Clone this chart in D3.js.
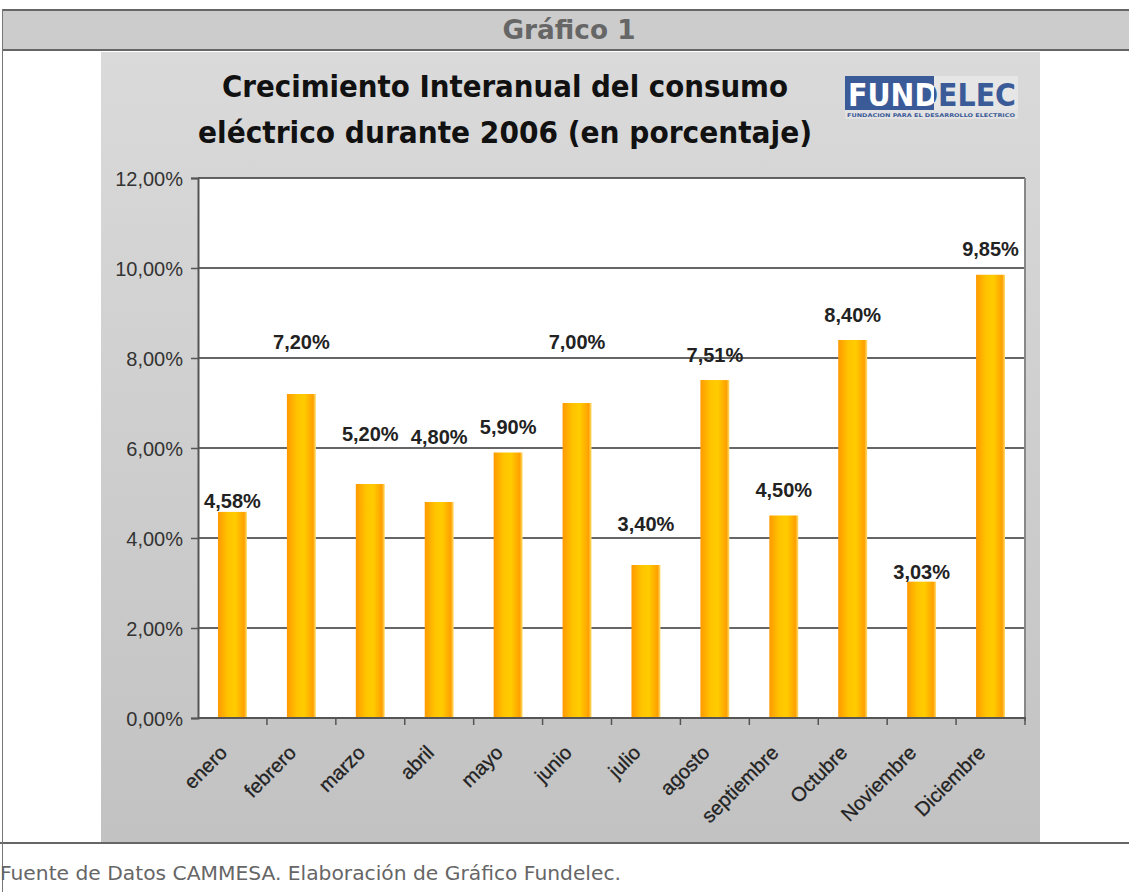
<!DOCTYPE html>
<html>
<head>
<meta charset="utf-8">
<script src="https://cdn.jsdelivr.net/npm/d3@7"></script>
<style>
  body { margin: 0; background: #fff; }
  svg { display: block; }
</style>
</head>
<body>
<svg id="chart" width="1129" height="892"></svg>
<script>
// data
const months = ['enero', 'febrero', 'marzo', 'abril', 'mayo', 'junio', 'julio',
  'agosto', 'septiembre', 'Octubre', 'Noviembre', 'Diciembre'];
const growth = [4.58, 7.20, 5.20, 4.80, 5.90, 7.00, 3.40, 7.51, 4.50, 8.40, 3.03, 9.85];
// level (in %) where the data label baseline sits in the original
const labelLevel = [4.67, 8.2, 6.16, 6.09, 6.31, 8.2, 4.16, 7.91, 4.91, 8.8, 3.09, 10.26];
const yTicks = [0, 2, 4, 6, 8, 10, 12];
const titleLines = ['Crecimiento Interanual del consumo', 'eléctrico durante 2006 (en porcentaje)'];

const es = d3.formatLocale({ decimal: ',', thousands: '.', grouping: [3], currency: ['$', ''] });
const fmt = es.format('.2f');

const svg = d3.select('#chart');
const defs = svg.append('defs');

const bg = defs.append('linearGradient').attr('id', 'bg')
  .attr('x1', 0).attr('y1', 0).attr('x2', 0).attr('y2', 1);
bg.append('stop').attr('offset', 0).attr('stop-color', '#dadada');
bg.append('stop').attr('offset', 1).attr('stop-color', '#c2c2c2');

const barG = defs.append('linearGradient').attr('id', 'bar')
  .attr('x1', 0).attr('y1', 0).attr('x2', 1).attr('y2', 0);
[[0, '#ff9900'], [0.35, '#ffc400'], [0.6, '#ffcc00'], [0.9, '#ffa000'], [1, '#ffe070']]
  .forEach(([o, c]) => barG.append('stop').attr('offset', o).attr('stop-color', c));

// page table frame
svg.append('rect').attr('x', 2).attr('y', 9).attr('width', 1127).attr('height', 41).attr('fill', '#cccccc');
svg.append('line').attr('x1', 2).attr('x2', 1129).attr('y1', 10).attr('y2', 10).attr('stroke', '#666').attr('stroke-width', 2);
svg.append('line').attr('x1', 2).attr('x2', 1129).attr('y1', 50).attr('y2', 50).attr('stroke', '#666').attr('stroke-width', 2);
svg.append('line').attr('x1', 0).attr('x2', 1129).attr('y1', 843).attr('y2', 843).attr('stroke', '#666').attr('stroke-width', 2);
svg.append('line').attr('x1', 2.5).attr('x2', 2.5).attr('y1', 9).attr('y2', 892).attr('stroke', '#777').attr('stroke-width', 1);
svg.append('text').attr('x', 569).attr('y', 39).attr('text-anchor', 'middle')
  .attr('font-family', 'DejaVu Sans').attr('font-weight', 'bold').attr('font-size', 26)
  .attr('textLength', 133).attr('lengthAdjust', 'spacingAndGlyphs')
  .attr('fill', '#666').text('Gráfico 1');
svg.append('text').attr('x', 0).attr('y', 880)
  .attr('font-family', 'DejaVu Sans').attr('font-size', 19)
  .attr('textLength', 621).attr('lengthAdjust', 'spacingAndGlyphs')
  .attr('fill', '#666').text('Fuente de Datos CAMMESA. Elaboración de Gráfico Fundelec.');

// chart image background
svg.append('rect').attr('x', 101).attr('y', 52).attr('width', 939).attr('height', 790).attr('fill', 'url(#bg)');

// title
svg.append('g').selectAll('text').data(titleLines).join('text')
  .attr('x', 505).attr('y', (d, i) => 97 + i * 46)
  .attr('text-anchor', 'middle')
  .attr('font-family', 'DejaVu Sans Condensed, DejaVu Sans').attr('font-weight', 'bold').attr('font-size', 31)
  .attr('textLength', (d, i) => i === 0 ? 566 : 614).attr('lengthAdjust', 'spacingAndGlyphs')
  .attr('fill', '#111').text(d => d);

// logo
const logo = svg.append('g');
defs.append('clipPath').attr('id', 'logoClip').append('rect')
  .attr('x', 845).attr('y', 76).attr('width', 89).attr('height', 34);
logo.append('rect').attr('x', 934).attr('y', 76).attr('width', 84).attr('height', 34).attr('fill', '#e6e6e6');
logo.append('rect').attr('x', 845).attr('y', 76).attr('width', 89).attr('height', 34).attr('fill', '#3b5b98');
logo.append('rect').attr('x', 845).attr('y', 110).attr('width', 173).attr('height', 9).attr('fill', '#e2e2e2');
logo.append('text').attr('x', 848).attr('y', 106)
  .attr('font-family', 'DejaVu Sans').attr('font-weight', 'bold').attr('font-size', 32)
  .attr('textLength', 168).attr('lengthAdjust', 'spacingAndGlyphs')
  .attr('fill', '#3b5b98').text('FUNDELEC');
logo.append('text').attr('x', 848).attr('y', 106).attr('clip-path', 'url(#logoClip)')
  .attr('font-family', 'DejaVu Sans').attr('font-weight', 'bold').attr('font-size', 32)
  .attr('textLength', 168).attr('lengthAdjust', 'spacingAndGlyphs')
  .attr('fill', '#fff').text('FUNDELEC');
logo.append('text').attr('x', 847).attr('y', 117)
  .attr('font-family', 'DejaVu Sans').attr('font-weight', 'bold').attr('font-size', 5)
  .attr('textLength', 168).attr('lengthAdjust', 'spacingAndGlyphs')
  .attr('fill', '#3b5b98').text('FUNDACION PARA EL DESARROLLO ELECTRICO');

// plot
const plotL = 198, plotR = 1025, plotT = 178, plotB = 718;
const x = d3.scaleBand().domain(months).range([plotL, plotR]).paddingInner(0.58).paddingOuter(0.29);
const y = d3.scaleLinear().domain([0, 12]).range([plotB, plotT]);

svg.append('rect').attr('x', plotL).attr('y', plotT).attr('width', plotR - plotL).attr('height', plotB - plotT).attr('fill', '#fff');

svg.append('g').selectAll('line').data(yTicks.filter(t => t > 0)).join('line')
  .attr('x1', plotL).attr('x2', plotR).attr('y1', d => y(d)).attr('y2', d => y(d))
  .attr('stroke', '#333').attr('stroke-width', 1.3);

svg.append('line').attr('x1', plotR).attr('x2', plotR).attr('y1', plotT).attr('y2', plotB + 3)
  .attr('stroke', '#888').attr('stroke-width', 2);

svg.append('g').selectAll('rect').data(growth).join('rect')
  .attr('x', (d, i) => x(months[i])).attr('width', x.bandwidth())
  .attr('y', d => y(d)).attr('height', d => plotB - y(d))
  .attr('fill', 'url(#bar)');

// y axis
const yAxis = svg.append('g').attr('transform', `translate(${plotL},0)`)
  .call(d3.axisLeft(y).tickValues(yTicks).tickSize(7).tickPadding(8).tickFormat(d => fmt(d) + '%'));
yAxis.select('.domain').attr('stroke', '#555').attr('stroke-width', 2);
yAxis.selectAll('.tick line').attr('stroke', '#555').attr('stroke-width', 1.5);
yAxis.selectAll('.tick text').attr('font-family', 'Liberation Sans').attr('font-size', 20)
  .attr('fill', '#333').attr('dy', '0.35em');

// x axis
const step = x.step();
svg.append('line').attr('x1', plotL).attr('x2', plotR + 1).attr('y1', plotB).attr('y2', plotB)
  .attr('stroke', '#555').attr('stroke-width', 2);
svg.append('g').selectAll('line').data(months).join('line')
  .attr('x1', (d, i) => plotL + (i + 1) * step).attr('x2', (d, i) => plotL + (i + 1) * step)
  .attr('y1', plotB).attr('y2', plotB + 7)
  .attr('stroke', '#555').attr('stroke-width', 1.5);
svg.append('g').selectAll('text').data(months).join('text')
  .attr('transform', d => `translate(${x(d) + x.bandwidth() / 2 - 4},754) rotate(-45)`)
  .attr('text-anchor', 'end')
  .attr('font-family', 'Liberation Sans').attr('font-size', 20)
  .attr('stroke', '#222').attr('stroke-width', 0.3)
  .attr('fill', '#222').text(d => d);

// data labels
svg.append('g').selectAll('text').data(growth).join('text')
  .attr('x', (d, i) => x(months[i]) + x.bandwidth() / 2)
  .attr('y', (d, i) => y(labelLevel[i]))
  .attr('text-anchor', 'middle')
  .attr('font-family', 'Liberation Sans').attr('font-weight', 'bold').attr('font-size', 20)
  .attr('fill', '#222').text(d => fmt(d) + '%');
</script>
</body>
</html>
